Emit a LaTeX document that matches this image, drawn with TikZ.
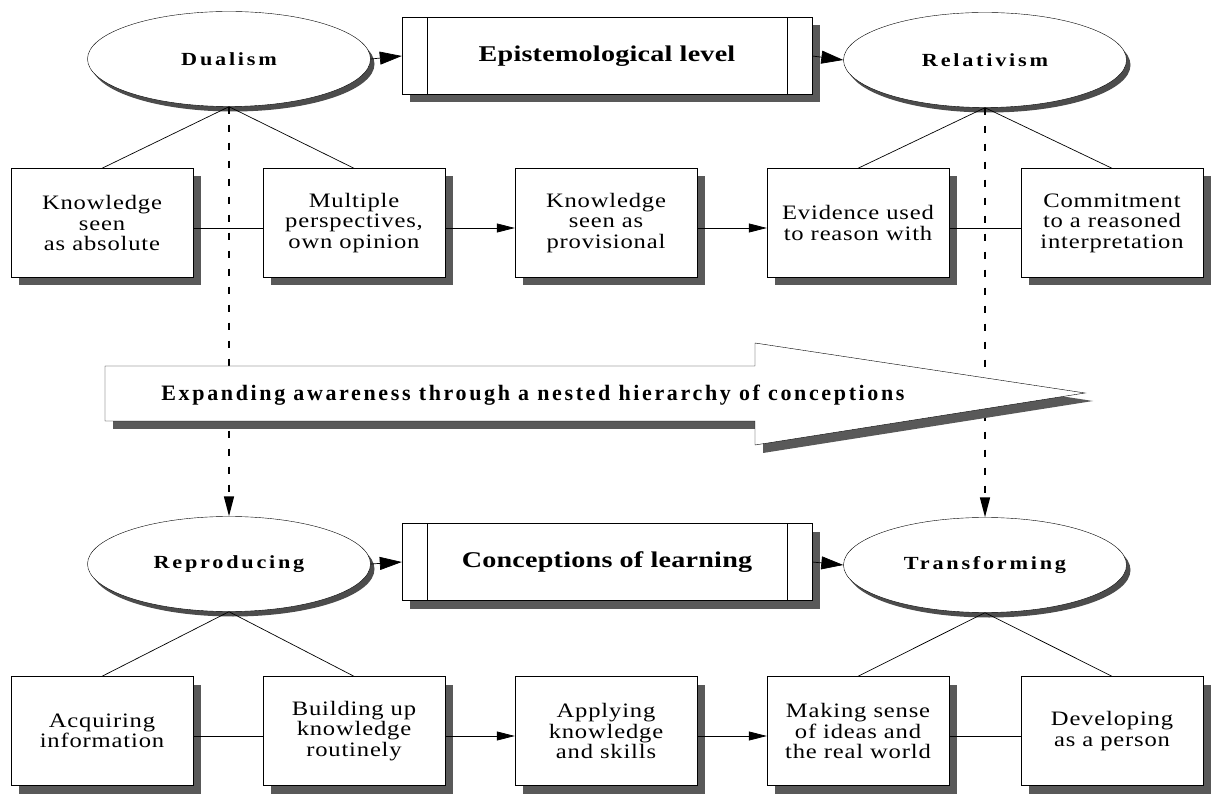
\documentclass[tikz,border=0pt]{standalone}
\usepackage{fontspec}
\setmainfont{Liberation Serif}
\newfontfamily\boxfont{Liberation Serif}[FakeStretch=1.2,LetterSpace=4]
\newfontfamily\headfont{Liberation Serif}[FakeStretch=1.25,LetterSpace=1]
\newfontfamily\ovalfont{Liberation Serif}[FakeStretch=1.2,LetterSpace=15]
\newfontfamily\bandfont{Liberation Serif}[LetterSpace=12]
\usetikzlibrary{shapes.geometric,shadows,arrows.meta}

\begin{document}
\begin{tikzpicture}[x=1pt,y=1pt,
    shade/.style={drop shadow={shadow xshift=8pt,shadow yshift=-8pt,fill=black!65,opacity=1}},
    stage/.style={draw,fill=white,thin,minimum width=182pt,minimum height=109pt,inner sep=0pt,
      align=center,font=\boxfont\fontsize{20.5}{20.5}\selectfont,shade},
    pole/.style={ellipse,draw,fill=white,thin,minimum width=283pt,minimum height=95pt,inner sep=0pt,
      font=\ovalfont\bfseries\fontsize{18.5}{19}\selectfont,
      drop shadow={shadow xshift=4pt,shadow yshift=-5pt,fill=black!70,opacity=1}},
    level/.style={draw,fill=white,thin,minimum width=410pt,minimum height=77pt,inner sep=0pt,
      font=\headfont\bfseries\fontsize{22.5}{24}\selectfont,shade},
    link/.style={line width=0.7pt},
    flow/.style={link,-{Triangle[length=18pt,width=9pt]}},
    pointer/.style={link,-{Triangle[length=22pt,width=13pt]}},
    dashline/.style={line width=1.5pt,dash pattern=on 7pt off 11pt,-{Triangle[length=20pt,width=10pt]}}]
  \useasboundingbox (0,0) rectangle (1217,793);

  % the two levels
  \node[pole] (dual) at (229,734) {Dualism};
  \node[pole] (rel) at (985,733) {Relativism};
  \node[level] (epi) at (607,737) {Epistemological level};
  \node[pole] (repr) at (229,229) {Reproducing};
  \node[pole] (trans) at (985,228) {Transforming};
  \node[level] (conc) at (607,231) {Conceptions of learning};
  \foreach \h in {epi,conc} {
    \draw[thin] ([xshift=25pt]\h.north west) -- ([xshift=25pt]\h.south west);
    \draw[thin] ([xshift=-25pt]\h.north east) -- ([xshift=-25pt]\h.south east);
  }
  \draw[pointer] (dual.east) -- (epi.west);
  \draw[pointer] (epi.east) -- (rel.west);
  \draw[pointer] (repr.east) -- (conc.west);
  \draw[pointer] (conc.east) -- (trans.west);

  % boxes, top and bottom row
  \foreach \n/\x/\txt in {
    t1/102/{Knowledge\\seen\\as absolute},
    t2/354/{Multiple\\perspectives,\\own opinion},
    t3/606/{Knowledge\\seen as\\provisional},
    t4/858/{Evidence used\\to reason with},
    t5/1112/{Commitment\\to a reasoned\\interpretation}} {
    \node[stage] (\n) at (\x,570) {\txt};
  }
  \foreach \n/\x/\txt in {
    b1/102/{Acquiring\\information},
    b2/354/{Building up\\knowledge\\routinely},
    b3/606/{Applying\\knowledge\\and skills},
    b4/858/{Making sense\\of ideas and\\the real world},
    b5/1112/{Developing\\as a person}} {
    \node[stage] (\n) at (\x,62) {\txt};
  }
  \foreach \r in {t,b} {
    \draw[link] ([yshift=-5pt]\r1.east) -- ([yshift=-5pt]\r2.west);
    \draw[flow] ([yshift=-5pt]\r2.east) -- ([yshift=-5pt]\r3.west);
    \draw[flow] ([yshift=-5pt]\r3.east) -- ([yshift=-5pt]\r4.west);
    \draw[link] ([yshift=-5pt]\r4.east) -- ([yshift=-5pt]\r5.west);
  }
  \draw[link] (dual.south) -- (t1.north);
  \draw[link] (dual.south) -- (t2.north);
  \draw[link] (rel.south) -- (t4.north);
  \draw[link] (rel.south) -- (t5.north);
  \draw[link] (repr.south) -- (b1.north);
  \draw[link] (repr.south) -- (b2.north);
  \draw[link] (trans.south) -- (b4.north);
  \draw[link] (trans.south) -- (b5.north);

  % nesting
  \draw[dashline] (dual.south) -- (repr.north);
  \draw[dashline] (rel.south) -- (trans.north);
  \draw[fill=white,thin,shade] (105,427) -- (755,427) -- (755,450) -- (1085,400)
    -- (755,348) -- (755,372) -- (105,372) -- cycle;
  \node[font=\bandfont\bfseries\fontsize{22}{24}\selectfont] (band) at (533,398)
    {Expanding awareness through a nested hierarchy of conceptions};
\end{tikzpicture}
\end{document}
